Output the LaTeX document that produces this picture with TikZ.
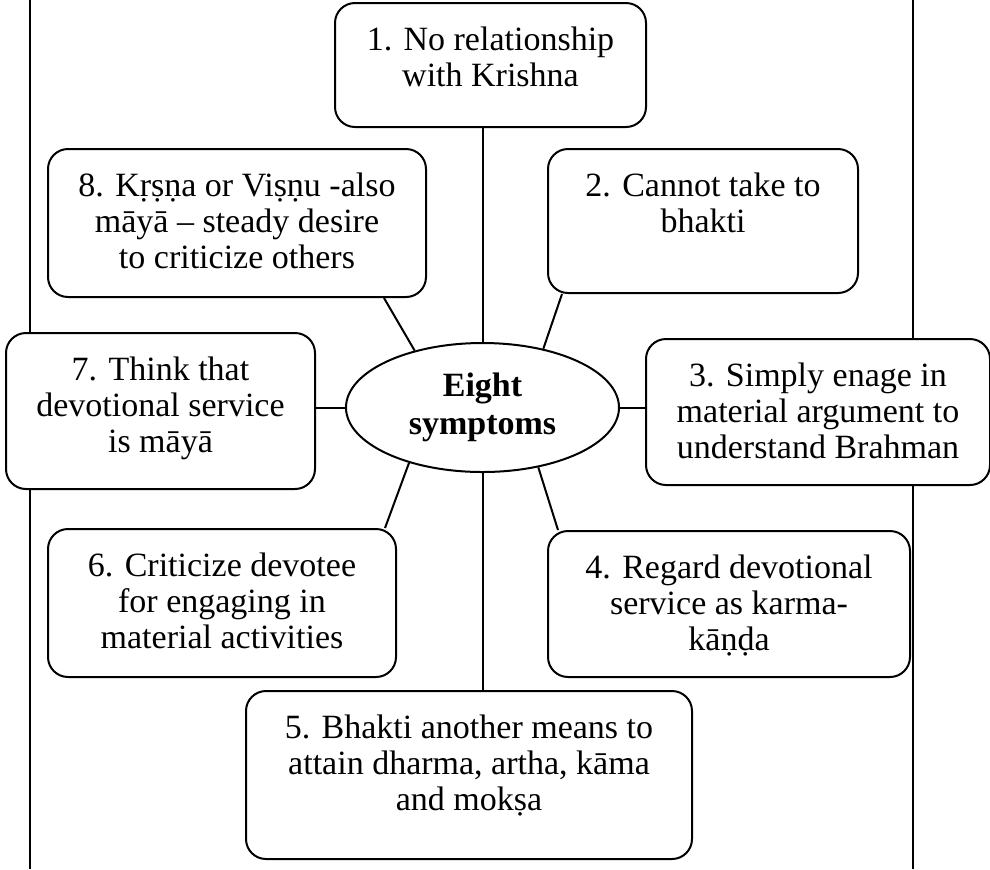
\documentclass[tikz,border=0pt]{standalone}
\usepackage{fontspec}
\setmainfont{Liberation Serif}
\usetikzlibrary{shapes.geometric}
\begin{document}
\begin{tikzpicture}[x=0.5pt,y=-0.5pt,line width=1pt,
    symp/.style={draw,rounded corners=10pt,fill=white,align=center,anchor=north west,
      inner xsep=0pt,inner ysep=0pt,font=\fontsize{17}{18}\selectfont},
    two/.style={text height=41.5pt},
    three/.style={text height=59.5pt},
    hub/.style={draw,ellipse,fill=white,inner sep=0pt,minimum width=136.5pt,
      minimum height=64.5pt,align=center,font=\fontsize{17}{19}\selectfont\bfseries}]
\useasboundingbox (0,0) rectangle (990,869);
\draw (30,0) -- (30,869);
\draw (913,0) -- (913,869);
\node[symp,two,minimum width=155.5pt,text depth=20.5pt] (b1) at (334,2) {1. No relationship\\with Krishna};
\node[symp,two,minimum width=155pt,text depth=30.5pt] (b2) at (547,148) {2. Cannot take to\\bhakti};
\node[symp,three,minimum width=172pt,text depth=13.5pt] (b3) at (645,338) {3. Simply enage in\\material argument to\\understand Brahman};
\node[symp,three,minimum width=181pt,text depth=13.5pt] (b4) at (547,530) {4. Regard devotional\\service as karma-\\kāṇḍa};
\node[symp,three,minimum width=223pt,text depth=24.5pt] (b5) at (245,690) {5. Bhakti another means to\\attain dharma, artha, kāma\\and mokṣa};
\node[symp,three,minimum width=174pt,text depth=14.5pt] (b6) at (47,528) {6. Criticize devotee\\for engaging in\\material activities};
\node[symp,three,minimum width=154.5pt,text depth=18.5pt] (b7) at (5,332) {7. Think that\\devotional service\\is māyā};
\node[symp,three,minimum width=189pt,text depth=14.5pt] (b8) at (47,148) {8. Kṛṣṇa or Viṣṇu -also\\māyā – steady desire\\to criticize others};
\node[hub] (e) at (482.5,407.5) {Eight\\symptoms};
\draw (e.north) -- (e.north |- b1.south);
\draw (e.44) -- ([xshift=-70.5pt]b2.south);
\draw (e.east) -- (e.east -| b3.west);
\draw (e.313) -- ([xshift=5.5pt]b4.north west);
\draw (e.south) -- (e.south |- b5.north);
\draw (e.217) -- ([xshift=-6pt]b6.north east);
\draw (e.west) -- (e.west -| b7.east);
\draw (e.140) -- ([xshift=73.5pt]b8.south);
\end{tikzpicture}
\end{document}
